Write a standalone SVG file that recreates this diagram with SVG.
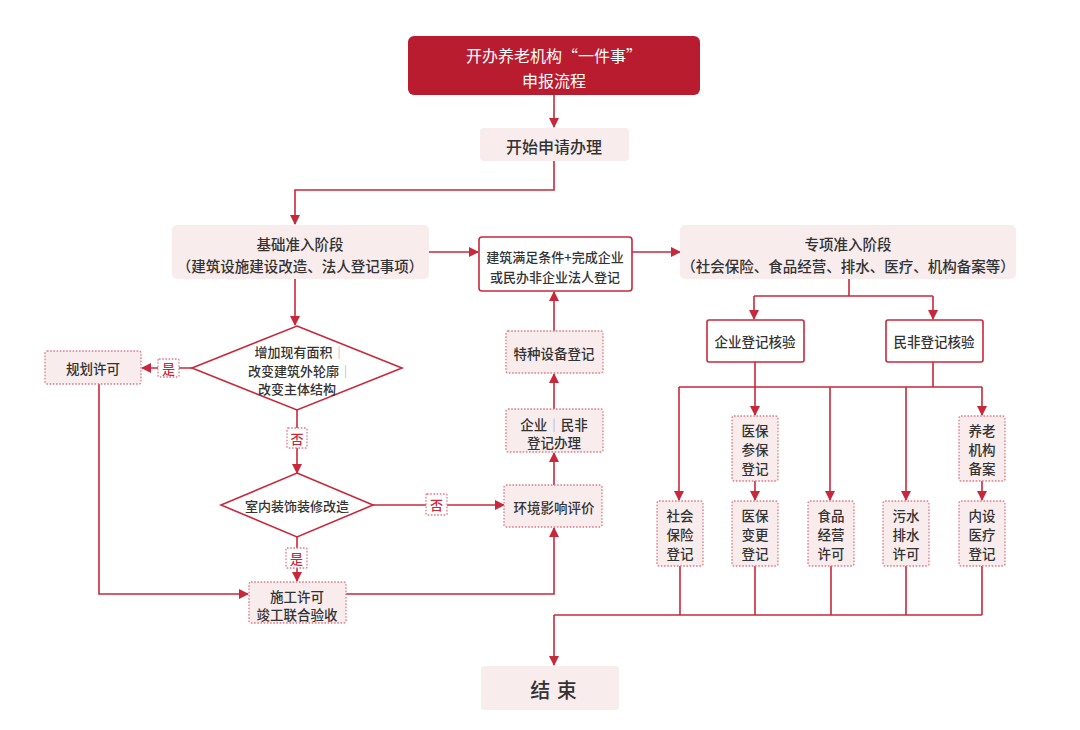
<svg xmlns="http://www.w3.org/2000/svg" width="1080" height="730" viewBox="0 0 1080 730">
<style>
text{font-family:"Noto Sans CJK SC","Noto Sans",sans-serif;fill:#333;text-anchor:middle;dominant-baseline:central;font-weight:500}
.ln{fill:none;stroke:#c8283c;stroke-width:1.6}
.arr{marker-end:url(#ah)}
.soft{fill:#f8eced;stroke:none}
.dot{fill:#f8eced;stroke:#e07a88;stroke-width:1.3;stroke-dasharray:1.6 1.6}
.solid{fill:#fff;stroke:#c8283c;stroke-width:1.6}
.dia{fill:#fff;stroke:#c8283c;stroke-width:1.6}
.lbl{fill:#fff;stroke:#e07a88;stroke-width:1.3;stroke-dasharray:1.6 1.6}
.lt{fill:#c8283c;font-size:13px}
.t13{font-size:13.5px}
.t14{font-size:14.5px}
.sep{fill:#999;font-weight:300}
</style>
<defs>
<marker id="ah" markerUnits="userSpaceOnUse" markerWidth="12" markerHeight="12" viewBox="0 0 12 12" refX="10" refY="6" orient="auto">
<path d="M1 1 L11 6 L1 11 Z" fill="#c8283c"/>
</marker>
</defs>
<g id="connectors">
<path class="ln arr" d="M554 95 V127"/>
<path class="ln arr" d="M554 161 V190 H295 V224"/>
<path class="ln arr" d="M295 279 V325"/>
<path class="ln arr" d="M192 368 H142"/>
<path class="ln arr" d="M297 410 V473"/>
<path class="ln arr" d="M99 384 V594 H248"/>
<path class="ln arr" d="M297 537 V581"/>
<path class="ln arr" d="M373 505 H504"/>
<path class="ln arr" d="M346 594 H554 V528"/>
<path class="ln arr" d="M554 485 V453"/>
<path class="ln arr" d="M554 409 V374"/>
<path class="ln arr" d="M554 331 V292"/>
<path class="ln arr" d="M429 252 H478"/>
<path class="ln arr" d="M632 252 H680"/>
<path class="ln" d="M849 279 V296 M754 296 H933"/>
<path class="ln arr" d="M754 296 V319"/>
<path class="ln arr" d="M933 296 V319"/>
<path class="ln arr" d="M755 362 V415"/>
<path class="ln" d="M933 362 V387 M679 387 H982"/>
<path class="ln arr" d="M679 387 V500"/>
<path class="ln arr" d="M830 387 V500"/>
<path class="ln arr" d="M906 387 V500"/>
<path class="ln arr" d="M982 387 V415"/>
<path class="ln arr" d="M755 481 V500"/>
<path class="ln arr" d="M982 481 V500"/>
<path class="ln" d="M680 566 V615 M755 566 V615 M831 566 V615 M906 566 V615 M982 566 V615 M554 615 H982"/>
<path class="ln arr" d="M554 615 V665"/>
</g>
<g id="title">
<rect x="408" y="36" width="292" height="59" rx="6" fill="#b81c2e"/>
<text x="554" y="55" style="fill:#fff;font-size:16px;font-weight:400">开办养老机构“一件事”</text>
<text x="554" y="80" style="fill:#fff;font-size:16px;font-weight:400">申报流程</text>
</g>
<g id="start">
<rect class="soft" x="480" y="128" width="149" height="33" rx="4"/>
<text x="554" y="146" style="font-size:16px">开始申请办理</text>
</g>
<g id="basic">
<rect class="soft" x="172" y="225" width="257" height="54" rx="5"/>
<text class="t14" x="300" y="243">基础准入阶段</text>
<text class="t14" x="300" y="265">（建筑设施建设改造、法人登记事项）</text>
</g>
<g id="middle">
<rect class="solid" x="479" y="237" width="153" height="54" rx="3"/>
<text x="555" y="256" style="font-size:13px">建筑满足条件+完成企业</text>
<text x="555" y="276" style="font-size:13px">或民办非企业法人登记</text>
</g>
<g id="special">
<rect class="soft" x="680" y="225" width="336" height="54" rx="5"/>
<text class="t14" x="848" y="243">专项准入阶段</text>
<text class="t14" x="848" y="265">（社会保险、食品经营、排水、医疗、机构备案等）</text>
</g>
<g id="diamond1">
<polygon class="dia" points="297,326 402,368 297,410 192,368"/>
<text x="300" y="351" style="font-size:13px">增加现有面积<tspan class="sep">｜</tspan></text>
<text x="300" y="370" style="font-size:13px">改变建筑外轮廓<tspan class="sep">｜</tspan></text>
<text x="297" y="388" style="font-size:13px">改变主体结构</text>
</g>
<g id="plan">
<rect class="dot" x="45" y="351" width="96" height="33" rx="2"/>
<text class="t13" x="93" y="368">规划许可</text>
</g>
<g id="diamond2">
<polygon class="dia" points="297,473 373,505 297,537 221,505"/>
<text x="297" y="505" style="font-size:13px">室内装饰装修改造</text>
</g>
<g id="construct">
<rect class="dot" x="249" y="582" width="97" height="41" rx="2"/>
<text class="t13" x="297" y="596">施工许可</text>
<text class="t13" x="297" y="614">竣工联合验收</text>
</g>
<g id="env">
<rect class="dot" x="504" y="485" width="98" height="42" rx="2"/>
<text class="t13" x="554" y="507">环境影响评价</text>
</g>
<g id="reg">
<rect class="dot" x="506" y="409" width="97" height="43" rx="2"/>
<text class="t13" x="554" y="424">企业<tspan class="sep">｜</tspan>民非</text>
<text class="t13" x="554" y="442">登记办理</text>
</g>
<g id="equip">
<rect class="dot" x="506" y="331" width="97" height="42" rx="2"/>
<text class="t13" x="554" y="353">特种设备登记</text>
</g>
<g id="entcheck">
<rect class="solid" x="707" y="320" width="97" height="42" rx="2"/>
<text class="t13" x="755" y="341">企业登记核验</text>
</g>
<g id="npcheck">
<rect class="solid" x="886" y="320" width="97" height="42" rx="2"/>
<text class="t13" x="934" y="341">民非登记核验</text>
</g>
<g id="med1">
<rect class="dot" x="732" y="416" width="46" height="65" rx="2"/>
<text class="t13" x="755" y="430">医保</text>
<text class="t13" x="755" y="449">参保</text>
<text class="t13" x="755" y="468">登记</text>
</g>
<g id="elder">
<rect class="dot" x="959" y="416" width="46" height="65" rx="2"/>
<text class="t13" x="982" y="430">养老</text>
<text class="t13" x="982" y="449">机构</text>
<text class="t13" x="982" y="468">备案</text>
</g>
<g id="social">
<rect class="dot" x="657" y="501" width="46" height="65" rx="2"/>
<text class="t13" x="680" y="515">社会</text>
<text class="t13" x="680" y="534">保险</text>
<text class="t13" x="680" y="553">登记</text>
</g>
<g id="med2">
<rect class="dot" x="732" y="501" width="46" height="65" rx="2"/>
<text class="t13" x="755" y="515">医保</text>
<text class="t13" x="755" y="534">变更</text>
<text class="t13" x="755" y="553">登记</text>
</g>
<g id="food">
<rect class="dot" x="808" y="501" width="46" height="65" rx="2"/>
<text class="t13" x="831" y="515">食品</text>
<text class="t13" x="831" y="534">经营</text>
<text class="t13" x="831" y="553">许可</text>
</g>
<g id="sewage">
<rect class="dot" x="883" y="501" width="46" height="65" rx="2"/>
<text class="t13" x="906" y="515">污水</text>
<text class="t13" x="906" y="534">排水</text>
<text class="t13" x="906" y="553">许可</text>
</g>
<g id="medical">
<rect class="dot" x="959" y="501" width="46" height="65" rx="2"/>
<text class="t13" x="982" y="515">内设</text>
<text class="t13" x="982" y="534">医疗</text>
<text class="t13" x="982" y="553">登记</text>
</g>
<g id="end">
<rect class="soft" x="481" y="666" width="138" height="44" rx="4"/>
<text x="554" y="689" style="font-size:20px;letter-spacing:1px">结 束</text>
</g>
<g id="labels">
<rect class="lbl" x="158" y="359" width="21" height="18" rx="1"/>
<text class="lt" x="168.5" y="368">是</text>
<rect class="lbl" x="287" y="428" width="20" height="20" rx="1"/>
<text class="lt" x="297" y="438">否</text>
<rect class="lbl" x="426" y="494" width="21" height="21" rx="1"/>
<text class="lt" x="436.5" y="504.5">否</text>
<rect class="lbl" x="286" y="548" width="21" height="20" rx="1"/>
<text class="lt" x="296.5" y="558">是</text>
</g>
</svg>
